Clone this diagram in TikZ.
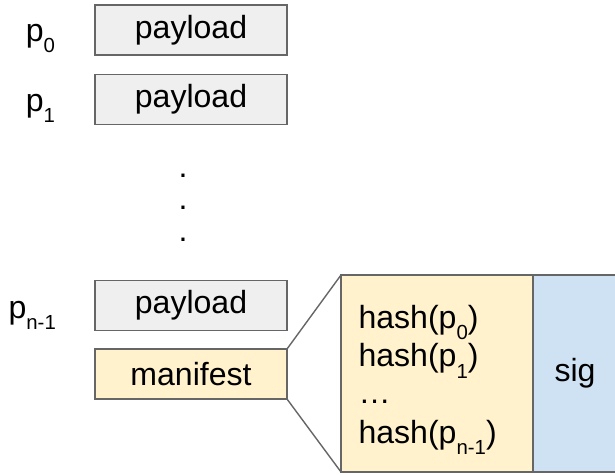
\documentclass[tikz,border=0pt]{standalone}
\usepackage{xcolor}
\usepackage{fontspec}
\setmainfont{Liberation Sans}
\usepackage{tikz}
\usetikzlibrary{calc, positioning}
\definecolor{payloadgray}{HTML}{EFEFEF}
\definecolor{manifestyellow}{HTML}{FFF2CC}
\definecolor{sigblue}{HTML}{CFE2F3}
\definecolor{edgegray}{HTML}{666666}
\newcommand{\lowsub}[1]{\raisebox{-8pt}{\fontsize{14.5}{14.5}\selectfont #1}}
\begin{document}
\begin{tikzpicture}[-,thick,font=\fontsize{22.8}{26}\selectfont,
                    block/.style={rectangle,draw=edgegray,line width=1.4pt,inner sep=0pt,outer sep=0pt,
                                  minimum width=4.8cm,minimum height=1.25cm},
                    pkt label/.style={anchor=base west,inner sep=0pt}]

 \useasboundingbox (0,0) rectangle (15.375,-11.85);

%DRAWING packets
 \node[block,fill=payloadgray] (Payload0) at (4.775,-0.75) {payload};
 \node[block,fill=payloadgray] (Payload1) at (4.775,-2.4875) {payload};
 \node[block,fill=payloadgray] (PayloadN) at (4.775,-7.6375) {payload};
 \node[block,fill=manifestyellow] (Manifest) at (4.775,-9.35) {manifest};

 \node[pkt label] (Label0) at (0.63,-1.025) {p\lowsub{0}};
 \node[pkt label] (Label1) at (0.63,-2.775) {p\lowsub{1}};
 \node[pkt label] (LabelN) at (0.2,-7.95) {p\lowsub{n-1}};

 \foreach \y [count=\i] in {-4.425,-5.225,-6.025}
 {\node[anchor=base,inner sep=0pt] (Dot\i) at (4.58,\y) {.};}

%Inserting manifest contents
 \node[block,fill=manifestyellow,minimum width=4.8cm,minimum height=4.925cm] (HashBox) at (10.925,-9.3375) {};
 \node[block,fill=sigblue,minimum width=2.2cm,minimum height=4.925cm,right=0pt of HashBox] (SigBox) {};
 \node (Sig) at ($(HashBox.east)+(1.05,0)$) {sig};

 \node[pkt label] (HashP0) at (8.95,-8.2) {hash(p\lowsub{0})};
 \node[pkt label] (HashP1) at (8.95,-9.17) {hash(p\lowsub{1})};
 \node[pkt label] (HashDots) at (8.95,-10.08) {…};
 \node[pkt label] (HashPN) at (8.95,-11.075) {hash(p\lowsub{n-1})};

 \draw[color=edgegray,line width=1pt] (Manifest.north east)--(HashBox.north west);
 \draw[color=edgegray,line width=1pt] (Manifest.south east)--(HashBox.south west);

\end{tikzpicture}
\end{document}
